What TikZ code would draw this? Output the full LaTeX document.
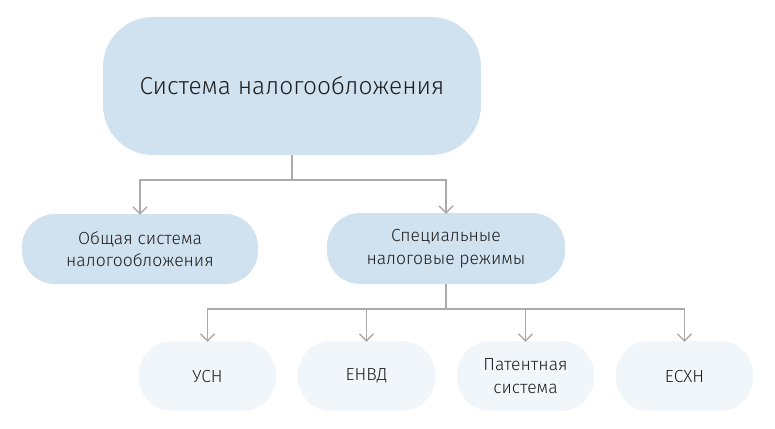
\documentclass[tikz,border=0pt]{standalone}
\usepackage{fontspec}
\setmainfont{Fira Sans}[UprightFont=* Light]
\usetikzlibrary{arrows.meta}
\definecolor{boxblue}{HTML}{D0E2F0}
\definecolor{boxpale}{HTML}{F1F6FA}
\definecolor{linegray}{HTML}{ABABAB}
\definecolor{txt}{HTML}{1E1E1E}
\begin{document}
\begin{tikzpicture}[x=1pt,y=-1pt,
  box/.style={fill=boxblue, draw=none, rounded corners=33pt, align=center, text=txt, inner sep=0pt, font=\fontsize{17.5}{22.5}\selectfont},
  palebox/.style={box, fill=boxpale},
  conn/.style={draw=linegray, line width=1.4pt},
  arr/.style={conn, -{Straight Barb[length=7pt,width=14pt,line width=1.4pt]}}]
\useasboundingbox (0,0) rectangle (775,428);
\node[box, rounded corners=50pt, minimum width=378pt, minimum height=138pt, font=\fontsize{24.5}{28}\selectfont] (top) at (292,86) {Система налогообложения};
\node[box, minimum width=236pt, minimum height=70pt] (gen) at (140,249) {Общая система\\налогообложения};
\node[box, minimum width=238pt, minimum height=71pt] (spec) at (446,248.5) {Специальные\\налоговые режимы};
\node[palebox, minimum width=137pt, minimum height=70pt] (usn) at (207.5,376) {УСН};
\node[palebox, minimum width=137pt, minimum height=70pt] (envd) at (366.5,376) {ЕНВД};
\node[palebox, minimum width=137pt, minimum height=70pt] (pat) at (525.5,376) {Патентная\\система};
\node[palebox, minimum width=137pt, minimum height=70pt] (eshn) at (684.5,376) {ЕСХН};
\coordinate (j1) at (292,180);
\coordinate (j2) at (446,309);
\draw[conn] (top.south) -- (j1);
\draw[arr] (j1) -- (j1 -| gen) -- ([yshift=-1pt]gen.north);
\draw[arr] (j1) -- (j1 -| spec) -- ([yshift=-1pt]spec.north);
\draw[conn] (spec.south) -- (j2);
\draw[arr] (j2) -- (j2 -| usn) -- ([yshift=-1pt]usn.north);
\draw[arr] (j2 -| usn) -- (j2 -| envd) -- ([yshift=-1pt]envd.north);
\draw[arr] (j2) -- (j2 -| pat) -- ([yshift=-1pt]pat.north);
\draw[arr] (j2 -| pat) -- (j2 -| eshn) -- ([yshift=-1pt]eshn.north);
\end{tikzpicture}
\end{document}
